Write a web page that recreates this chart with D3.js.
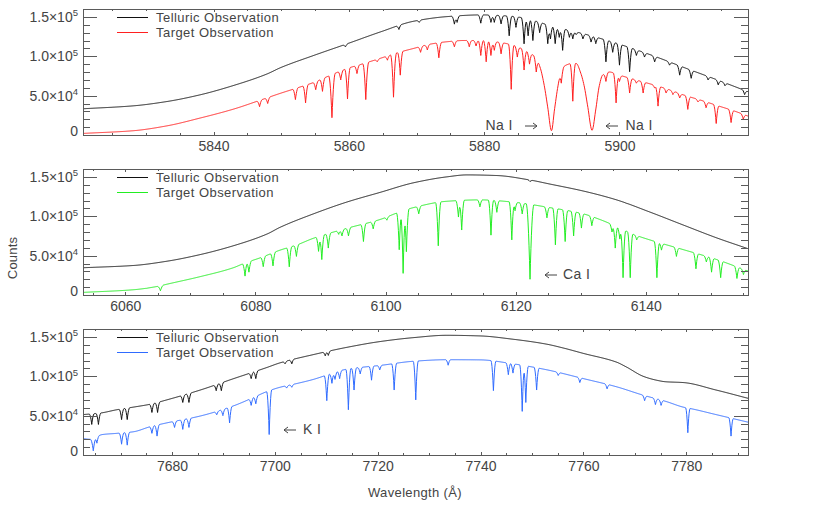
<!DOCTYPE html>
<html><head><meta charset="utf-8">
<script src="https://cdn.jsdelivr.net/npm/d3@7"></script>
<style>
body{margin:0;background:#fff}
svg{display:block}
text{font-family:"Liberation Sans",Arial,"DejaVu Sans",sans-serif;fill:#444}
</style>
</head><body>
<svg id="chart" width="830" height="507"></svg>
<script>
// ---------------- DATA ----------------
const naRange = [5820.7, 5919.0];
const caRange = [6053.5, 6155.7];
const kRange  = [7662.7, 7792.0];
const naTicks = [5840, 5860, 5880, 5900];
const caTicks = [6060, 6080, 6100, 6120, 6140];
const kTicks  = [7680, 7700, 7720, 7740, 7760, 7780];
const countTicks = [0, 50000, 100000, 150000];
const countTickLabels = [["0", ""], ["5.0×10", "4"], ["1.0×10", "5"], ["1.5×10", "5"]];
const legendLabels = ["Telluric Observation", "Target Observation"];
const lineLabels = ["Na I", "Na I", "Ca I", "K I"];

// continuum nodes [wavelength Å, counts]
const naTelluricCont = [[5820.7,33300],[5828.1,37000],[5833.1,42500],[5838,51000],[5843,63000],[5847.9,77500],[5849.9,85500],[5854.8,101000],[5859.8,116000],[5864.7,131000],[5869.6,144500],[5874.6,150400],[5879.5,152500],[5884.4,150500],[5887,146000],[5889.9,138500],[5894.8,128300],[5899.8,115800],[5904.7,101500],[5909.6,85500],[5914.6,69500],[5919.0,55000]];
const naTargetCont = [[5820.7,2000],[5828.1,5400],[5833.1,11600],[5838,21500],[5843,33000],[5847,44500],[5849.9,53000],[5852.3,59600],[5854.8,66700],[5857.3,76000],[5859.8,84600],[5862.3,91000],[5864.7,97500],[5867.2,104500],[5869.6,110000],[5872.1,115500],[5874.6,118500],[5877,120000],[5879.5,120000],[5882,118000],[5884.4,113700],[5886.9,103000],[5887.6,99000],[5888.3,85000],[5888.9,62000],[5889.4,35000],[5889.95,5400],[5890.4,32500],[5890.9,61700],[5891.4,82000],[5892.1,88700],[5893.0,90800],[5893.6,90800],[5894.3,78000],[5894.8,61700],[5895.3,36700],[5895.95,6000],[5896.5,32500],[5897.0,61700],[5897.5,76000],[5898.5,80000],[5899.8,76500],[5902.2,70500],[5904.7,64500],[5907.2,58000],[5909.6,50500],[5912.1,44000],[5914.6,37000],[5917.0,30400],[5919.0,24000]];
const caTelluricCont = [[6053.5,34600],[6061.3,37500],[6066.4,42900],[6071.5,51300],[6076.6,62500],[6081.8,77500],[6083.8,86000],[6088.9,103000],[6094.0,117900],[6099.2,130400],[6104.3,142500],[6109.4,150000],[6112.5,152500],[6117.1,151700],[6122.2,146000],[6125.3,140800],[6130.4,132000],[6135.5,120800],[6140.6,105400],[6145.8,88700],[6150.9,72500],[6155.7,58800]];
const caTargetCont = [[6053.5,3300],[6061.3,6700],[6065.0,11000],[6066.4,13700],[6071.5,23300],[6076.6,34600],[6078.2,40000],[6081.0,48000],[6083.8,57000],[6086.4,63700],[6088.9,72000],[6094.0,84600],[6099.2,96000],[6101.7,104000],[6104.3,111000],[6109.4,119000],[6114.5,120800],[6119.7,117900],[6124.8,111600],[6130.4,103000],[6132.9,96000],[6135.5,87000],[6138.1,77000],[6140.6,70000],[6145.8,57500],[6150.9,45000],[6155.7,30400]];
const kTelluricCont = [[7662.7,51300],[7666.1,53300],[7669.3,57500],[7672.5,60800],[7675.8,64500],[7679.0,70000],[7685.5,82500],[7692.0,97000],[7698.4,111000],[7701.0,117000],[7707.5,127500],[7714.0,136700],[7720.4,144000],[7726.9,149000],[7733.4,152000],[7739.9,151200],[7746.3,147000],[7752.8,140800],[7756.0,136000],[7760.0,129000],[7766.4,118000],[7768.4,111600],[7771.6,100000],[7774.2,95000],[7776.0,93000],[7779.4,92000],[7785.8,82500],[7792.0,72000]];
const kTargetCont = [[7662.7,20800],[7664.0,20000],[7666.5,26000],[7669.3,27500],[7672.5,29500],[7675.8,36000],[7679.0,40800],[7685.5,49500],[7692.0,62500],[7695.5,72000],[7698.4,80400],[7701.0,86000],[7704.3,90800],[7707.5,96000],[7710.8,103000],[7714.0,109000],[7717.2,111600],[7720.4,113700],[7726.9,119000],[7733.4,121000],[7739.9,120800],[7746.3,115800],[7752.8,108300],[7760.0,97000],[7766.4,86700],[7771.6,76000],[7776.1,67900],[7779.4,60800],[7781.3,58300],[7785.8,51300],[7792.0,41700]];

// absorption lines [centre Å, counts at line bottom, optional half-width Å]
const naTelluricLines = [[5859.5,112000],[5867.4,134000],[5870.4,143000],[5875.6,140800],[5876.0,143000],[5879.5,142000],[5881.0,143000],[5881.5,143000],[5882.5,141000],[5883.7,126000],[5884.7,136700],[5885.9,115800],[5886.5,126000],[5887.2,120000],[5888.2,130000],[5889.4,116000],[5889.8,122000],[5890.5,116000],[5891.1,124000],[5891.6,107500],[5892.6,124000],[5893.1,122000],[5893.6,127500],[5894.6,122000],[5895.8,118000],[5896.5,116000],[5898.0,92900],[5899.0,105000],[5900.0,88700],[5901.5,80400],[5902.5,101000],[5903.7,99000],[5905.2,92900],[5907.4,88700],[5908.9,76000],[5910.6,72000],[5913.1,70000],[5914.6,63700],[5915.6,62500],[5918.5,51300]];
const naTargetLines = [[5846.8,36000],[5848.0,40000],[5852.1,45000],[5853.6,40800],[5855.1,57500],[5856.1,55400],[5857.5,22000,0.5],[5858.8,70000],[5859.8,45800],[5861.2,78000],[5862.5,45000,0.45],[5864.2,93000],[5865.7,95000],[5866.6,48000,0.45],[5867.6,76000],[5870.6,105000],[5871.6,108000],[5873.3,98000],[5875.6,112000],[5877.8,112000],[5878.8,113000],[5879.5,101000],[5880.3,93000],[5881.0,101000],[5881.5,107500],[5882.5,103000],[5884.0,58000],[5884.9,99000],[5885.9,82500],[5886.7,90000],[5887.7,80000],[5891.4,65800],[5893.1,42900],[5898.0,68000],[5899.5,40800],[5900.0,68000],[5901.5,53300],[5902.5,65800],[5903.5,53300],[5905.2,59600],[5905.7,36700],[5906.9,53300],[5907.9,51300],[5908.9,47000],[5910.1,32500],[5911.6,42000],[5912.8,34600],[5914.3,14600],[5916.5,15800],[5918.3,20000]];
const caTelluricLines = [[6102.5,141000],[6122.2,144000],[6137.0,116500]];
const caTargetLines = [[6063.3,8500],[6065.4,5400,0.5],[6078.4,24000],[6079.0,29000],[6081.2,36000],[6082.7,37000],[6085.2,35800],[6086.3,49000],[6089.7,55400],[6090.2,45000],[6091.2,59600],[6092.8,77000],[6093.3,75000],[6094.3,75000],[6096.6,67900],[6098.1,84000],[6100.2,95000],[6102.1,57500],[6102.7,27500],[6103.2,55000],[6105.1,103000],[6108.1,62500],[6111.2,99000],[6111.7,82500],[6114.5,112000],[6116.2,76000],[6117.1,105000],[6119.4,70000],[6119.9,107000],[6121.0,103000],[6122.2,20000,0.6],[6124.8,98000],[6126.1,63700],[6127.6,67900],[6128.9,75000],[6130.1,85000],[6131.7,88000],[6134.8,80000],[6135.3,59600],[6136.0,71000],[6136.5,22000],[6137.6,22000],[6138.6,70000],[6141.7,22000],[6142.4,57000],[6144.7,49000],[6147.7,33300],[6149.3,42000],[6150.1,29000],[6151.5,22000],[6154.0,21000],[6155.0,26000]];
const kTelluricLines = [[7664.4,38800],[7665.7,38800],[7670.2,45000],[7671.3,45000],[7676.1,54000],[7677.2,54000],[7682.1,66700],[7683.3,66700],[7688.6,81700],[7689.6,81700],[7695.4,97000],[7696.3,97000],[7702.0,115800],[7703.3,115800],[7709.8,126000],[7710.4,126500]];
const kTargetLines = [[7664.7,5400,0.6],[7665.4,15000],[7670.2,13700],[7671.3,12500],[7676.1,27500],[7677.1,24000],[7680.5,35000],[7682.1,32500],[7683.3,35000],[7688.7,51000],[7689.9,50000],[7691.2,40800],[7695.4,63000],[7696.3,65000],[7698.9,26000,0.5],[7702.3,85000],[7703.3,86000],[7710.1,69000],[7711.1,91000],[7711.7,96000],[7712.6,97000],[7714.3,57500],[7715.4,82500],[7716.6,103000],[7718.8,95000],[7720.4,108000],[7723.2,82500],[7727.4,70000],[7733.7,114000],[7742.5,81700],[7745.4,102000],[7746.3,104000],[7748.1,55400],[7748.8,66700],[7750.9,82500],[7755.1,101000],[7759.3,92000],[7764.6,84000],[7771.9,69000],[7774.0,64000],[7775.1,63000],[7780.3,28300,0.45],[7788.7,24000,0.45]];

// ---------------- LAYOUT ----------------
const svg = d3.select("#chart");
const X0 = 83, X1 = 748, PH = 126;
const panelTops = [9, 169, 329];
const frameColor = "#5a5a5a", textColor = "#444";
const targetColors = ["#ff2020", "#22ee22", "#2f6bff"];

const panels = [
  {range: naRange, ticks: naTicks, tc: naTelluricCont, tl: naTelluricLines, sc: naTargetCont, sl: naTargetLines, hw: 0.42},
  {range: caRange, ticks: caTicks, tc: caTelluricCont, tl: caTelluricLines, sc: caTargetCont, sl: caTargetLines, hw: 0.42},
  {range: kRange,  ticks: kTicks,  tc: kTelluricCont,  tl: kTelluricLines,  sc: kTargetCont,  sl: kTargetLines,  hw: 0.5}
];

// smooth (monotone cubic) reading of the continuum between the read nodes
function monotone(cont) {
  const n = cont.length, xs = cont.map(d => d[0]), ys = cont.map(d => d[1]);
  const dx = [], sl = [];
  for (let i = 0; i < n - 1; i++) { dx.push(xs[i+1] - xs[i]); sl.push((ys[i+1] - ys[i]) / dx[i]); }
  const m = new Array(n);
  m[0] = sl[0]; m[n-1] = sl[n-2];
  for (let i = 1; i < n - 1; i++) {
    if (sl[i-1] * sl[i] <= 0) m[i] = 0;
    else {
      const w1 = 2 * dx[i] + dx[i-1], w2 = dx[i] + 2 * dx[i-1];
      m[i] = (w1 + w2) / (w1 / sl[i-1] + w2 / sl[i]);
    }
  }
  return w => {
    if (w <= xs[0]) return ys[0];
    if (w >= xs[n-1]) return ys[n-1];
    const i = Math.max(0, d3.bisectRight(xs, w) - 1);
    const h = dx[i], t = (w - xs[i]) / h, t2 = t * t, t3 = t2 * t;
    return (2*t3 - 3*t2 + 1) * ys[i] + (t3 - 2*t2 + t) * h * m[i] + (-2*t3 + 3*t2) * ys[i+1] + (t3 - t2) * h * m[i+1];
  };
}
function spectrum(cont, lines, range, hwDefault) {
  const cf = monotone(cont);
  const step = (range[1] - range[0]) / 1400;
  const ws = d3.range(range[0], range[1] + step / 2, step).concat(lines.map(l => l[0])).sort((a, b) => a - b);
  const prepared = lines.map(l => {
    const c = cf(l[0]);
    return {c: l[0], d: Math.max(0, Math.min(0.995, 1 - l[1] / c)), hw: l[2] || hwDefault};
  });
  return ws.map(w => {
    let f = cf(w);
    prepared.forEach(p => {
      const u = Math.abs(w - p.c) / p.hw;
      if (u < 1) f *= 1 - p.d * (1 - u) * (1 - u);
    });
    return [w, f];
  });
}

const defs = svg.append("defs");

panels.forEach((p, i) => {
  const top = panelTops[i], bot = top + PH;
  const x = d3.scaleLinear().domain(p.range).range([X0, X1]);
  const y = d3.scaleLinear().domain([0, 160000]).range([bot, top]);
  const g = svg.append("g");

  defs.append("clipPath").attr("id", "clip" + i)
    .append("rect").attr("x", X0).attr("y", top).attr("width", X1 - X0).attr("height", PH);

  const line = d3.line().x(d => x(d[0])).y(d => y(d[1]));
  const plot = g.append("g").attr("clip-path", `url(#clip${i})`);
  plot.append("path").datum(spectrum(p.tc, p.tl, p.range, p.hw))
    .attr("d", line).attr("fill", "none").attr("stroke", "#111").attr("stroke-width", 1);
  plot.append("path").datum(spectrum(p.sc, p.sl, p.range, p.hw))
    .attr("d", line).attr("fill", "none").attr("stroke", targetColors[i]).attr("stroke-width", 1);

  // axes
  const yMinor = d3.range(0, 160001, 10000).filter(v => !countTicks.includes(v));
  const xMinor = d3.range(Math.ceil(p.range[0] / 5) * 5, p.range[1], 5).filter(v => !p.ticks.includes(v));
  const style = sel => {
    sel.select(".domain").remove();
    sel.attr("color", frameColor).attr("shape-rendering", "crispEdges");
    sel.selectAll("text").attr("fill", textColor).attr("font-size", 14)
      .attr("font-family", '"Liberation Sans", Arial, sans-serif');
  };
  const none = () => "";

  const left = g.append("g").attr("transform", `translate(${X0},0)`)
    .call(d3.axisLeft(y).tickValues(countTicks).tickSize(-14).tickSizeOuter(0).tickPadding(5).tickFormat(none)).call(style);
  left.selectAll("text").each(function(d) {
    const lab = countTickLabels[countTicks.indexOf(d)];
    const t = d3.select(this).text(lab[0]);
    if (lab[1]) t.append("tspan").attr("dy", -5.5).attr("font-size", 9.5).text(lab[1]);
    if (d === 0) t.attr("y", -3.5);
  });
  g.append("g").attr("transform", `translate(${X0},0)`)
    .call(d3.axisLeft(y).tickValues(yMinor).tickSize(-7).tickSizeOuter(0).tickFormat(none)).call(style);
  g.append("g").attr("transform", `translate(${X1},0)`)
    .call(d3.axisRight(y).tickValues(countTicks).tickSize(-14).tickSizeOuter(0).tickFormat(none)).call(style);
  g.append("g").attr("transform", `translate(${X1},0)`)
    .call(d3.axisRight(y).tickValues(yMinor).tickSize(-7).tickSizeOuter(0).tickFormat(none)).call(style);

  g.append("g").attr("transform", `translate(0,${bot})`)
    .call(d3.axisBottom(x).tickValues(p.ticks).tickSize(-3).tickSizeOuter(0).tickPadding(6).tickFormat(d3.format("d"))).call(style);
  g.append("g").attr("transform", `translate(0,${bot})`)
    .call(d3.axisBottom(x).tickValues(xMinor).tickSize(-2).tickSizeOuter(0).tickFormat(none)).call(style);
  g.append("g").attr("transform", `translate(0,${top})`)
    .call(d3.axisTop(x).tickValues(p.ticks).tickSize(-3).tickSizeOuter(0).tickFormat(none)).call(style);
  g.append("g").attr("transform", `translate(0,${top})`)
    .call(d3.axisTop(x).tickValues(xMinor).tickSize(-2).tickSizeOuter(0).tickFormat(none)).call(style);

  g.append("rect").attr("x", X0 + 0.5).attr("y", top + 0.5).attr("width", X1 - X0).attr("height", PH)
    .attr("fill", "none").attr("stroke", frameColor).attr("stroke-width", 1);

  // legend
  const legColors = ["#111", targetColors[i]];
  legendLabels.forEach((lab, j) => {
    const ly = top + 8.5 + j * 15;
    g.append("line").attr("x1", 117).attr("x2", 148).attr("y1", ly).attr("y2", ly)
      .attr("stroke", legColors[j]).attr("stroke-width", 1);
    g.append("text").attr("x", 156).attr("y", ly + 4.7).attr("font-size", 13)
      .attr("letter-spacing", 0.45).text(lab);
  });
});

// line identifications
function arrow(x1, x2, yy) {
  const dir = Math.sign(x2 - x1);
  const pth = d3.path();
  pth.moveTo(x1, yy); pth.lineTo(x2, yy);
  pth.moveTo(x2 - dir * 4, yy - 3); pth.lineTo(x2, yy); pth.lineTo(x2 - dir * 4, yy + 3);
  svg.append("path").attr("d", pth.toString()).attr("fill", "none").attr("stroke", textColor).attr("stroke-width", 1);
}
const annot = svg.append("g").attr("font-size", 14).attr("letter-spacing", 0.4);
annot.append("text").attr("x", 485.5).attr("y", 129.5).text(lineLabels[0]);
arrow(525, 537, 126);
arrow(618, 606, 126);
annot.append("text").attr("x", 625.5).attr("y", 129.5).text(lineLabels[1]);
arrow(557, 545, 275);
annot.append("text").attr("x", 563).attr("y", 278.5).text(lineLabels[2]);
arrow(296, 284, 430);
annot.append("text").attr("x", 303).attr("y", 434).text(lineLabels[3]);

// axis titles
svg.append("text").attr("transform", "translate(17,258) rotate(-90)").attr("text-anchor", "middle")
  .attr("font-size", 13).attr("letter-spacing", 0.2).text("Counts");
svg.append("text").attr("x", 415).attr("y", 497).attr("text-anchor", "middle")
  .attr("font-size", 13).attr("letter-spacing", 0.35).text("Wavelength (Å)");
</script>
</body></html>
